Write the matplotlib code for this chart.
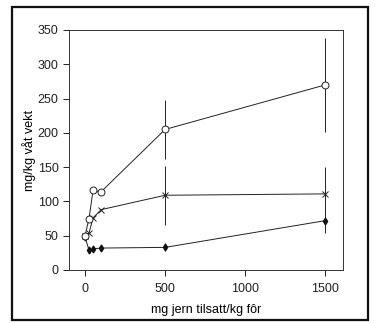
import numpy as np
import matplotlib.pyplot as plt
from matplotlib.patches import Rectangle

# mg jern tilsatt/kg fôr
dose = [0, 25, 50, 100, 500, 1500]

# mg/kg våt vekt, three tissues
circle_vals = [50, 75, 116, 114, 205, 270]
cross_vals = [50, 54, 76, 88, 109, 111]
diamond_vals = [48, 29, 31, 32, 33, 72]

# spread only drawn at the two highest doses
circle_err = [0, 0, 0, 0, 43, 69]
cross_err = [0, 0, 0, 0, 43, 39]
diamond_err = [0, 0, 0, 0, 6, 18]

plt.rcParams['font.family'] = ['Liberation Sans', 'DejaVu Sans']

fig = plt.figure(figsize=(3.79, 3.23), dpi=100)
ax = fig.add_axes([69 / 379, 53 / 323, 274 / 379, 240 / 323])

line_kw = dict(color='#222222', lw=0.7, elinewidth=0.7, capsize=0)

ax.errorbar(dose, diamond_vals, yerr=diamond_err, marker='d', ms=3.5,
            mfc='#111111', mec='#111111', **line_kw)
ax.errorbar(dose, cross_vals, yerr=cross_err, marker='x', ms=4.5,
            mew=0.7, **line_kw)
ax.errorbar(dose, circle_vals, yerr=circle_err, marker='o', ms=5,
            mfc='white', mec='#222222', mew=0.7, **line_kw)

ax.set_xlim(-100, 1610)
ax.set_ylim(0, 350)
ax.set_xticks([0, 500, 1000, 1500])
ax.set_yticks(np.arange(0, 351, 50))
ax.tick_params(direction='out', length=4, width=0.7, labelsize=9, colors='#222222')
ax.tick_params(axis='x', pad=5)
for sp in ax.spines.values():
    sp.set_linewidth(0.7)
    sp.set_color('#333333')

ax.set_xlabel('mg jern tilsatt/kg fôr', fontsize=9, labelpad=7)
ax.set_ylabel('mg/kg våt vekt', fontsize=9, labelpad=1)

# outer frame around the whole figure
fig.patches.append(Rectangle((12 / 379, 3 / 323), 356 / 379, 313 / 323,
                             transform=fig.transFigure, fill=False,
                             lw=1.6, ec='#111111'))

plt.savefig('out.png', dpi=100)
plt.close()
